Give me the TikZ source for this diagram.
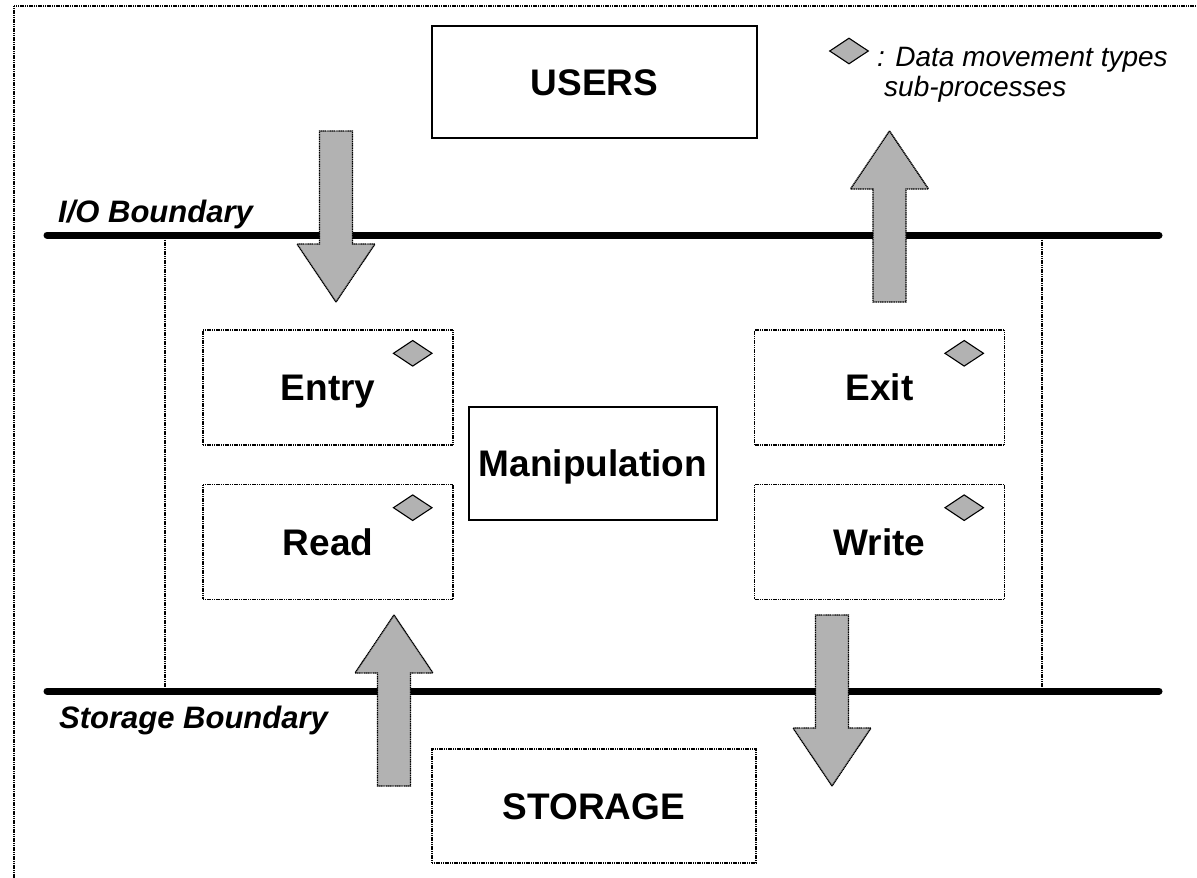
\documentclass[tikz,border=0pt]{standalone}
\usepackage{fontspec}
\setmainfont{Liberation Sans}
\usepackage{tikz}
\usetikzlibrary{positioning,shapes.geometric,calc}
\tikzset{
  dots/.style={dash pattern=on 1.2pt off 0.6pt,line width=1.4pt},
  procbox/.style={draw,dots,fill=white,inner sep=0pt,
                  minimum width=250pt,minimum height=115pt,
                  font=\bfseries\fontsize{37}{44}\selectfont,
                  text height=26.5pt,text depth=0pt},
  plainbox/.style={procbox,solid},
  dmark/.style={diamond,draw,solid,line width=1.1pt,fill=black!30,inner sep=0pt,
                minimum width=39pt,minimum height=26pt},
  bound/.style={line width=7pt,line cap=round},
  blabel/.style={font=\bfseries\itshape\fontsize{31}{36}\selectfont,
                 anchor=base west,inner sep=0pt},
  legtext/.style={font=\itshape\fontsize{28}{32}\selectfont,
                  anchor=base west,inner sep=0pt},
  fatarr/.style={fill=black!30,draw,dots},
  fatdown/.pic={
    \filldraw[fatarr] (0,0) -- (-39,-58) -- (-16.5,-58) -- (-16.5,-171)
      -- (16.5,-171) -- (16.5,-58) -- (39,-58) -- cycle;
  },
}

\begin{document}
\begin{tikzpicture}[x=1pt,y=-1pt]
\useasboundingbox (0,0) rectangle (1197,878);
\clip (0,0) rectangle (1197,878);

% outer frame (runs off the page on the right and bottom)
\draw[dots] (14,6) rectangle (1240,920);

% boundaries
\coordinate (ioL) at (47,235);  \coordinate (ioR) at (1159,235);
\coordinate (stL) at (47,691);  \coordinate (stR) at (1159,691);
\draw[bound] (ioL) -- (ioR);
\draw[bound] (stL) -- (stR);
\node[blabel] (iolab) at (58,222) {I/O Boundary};
\node[blabel] (stlab) at (59,728) {Storage Boundary};

% software side walls
\draw[dots,line width=1.1pt] (165,238) -- (165,688);
\draw[dots,line width=1.1pt] (1042,238) -- (1042,688);

% outside stores
\node[plainbox,minimum width=325pt,minimum height=112pt] (users) at (594.5,82) {USERS};
\node[procbox,minimum width=324pt,minimum height=114pt] (storage) at (594,806) {STORAGE};

% sub-processes
\node[procbox] (entry) at (328,387.5) {Entry};
\node[procbox,below=38pt of entry] (read) {Read};
\node[procbox] (exit) at (879.5,387.5) {Exit};
\node[procbox,below=38pt of exit] (write) {Write};
\node[plainbox,minimum width=248pt,minimum height=113pt] (manip) at (593,463.5) {Manipulation};

\foreach \b in {entry,read,exit,write}
  \node[dmark] (\b-dm) at ($(\b.north east)+(-41,24)$) {};

% data movements
\pic at (336,302) {fatdown};
\pic[rotate=180] at (889.5,131) {fatdown};
\pic[rotate=180] at (394,615) {fatdown};
\pic at (832,786) {fatdown};

% legend
\node[dmark] (legmark) at (849,51) {};
\node[legtext] (leg1) at (877,66) {: Data movement types};
\node[legtext] (leg2) at (884,96) {sub-processes};
\end{tikzpicture}
\end{document}
